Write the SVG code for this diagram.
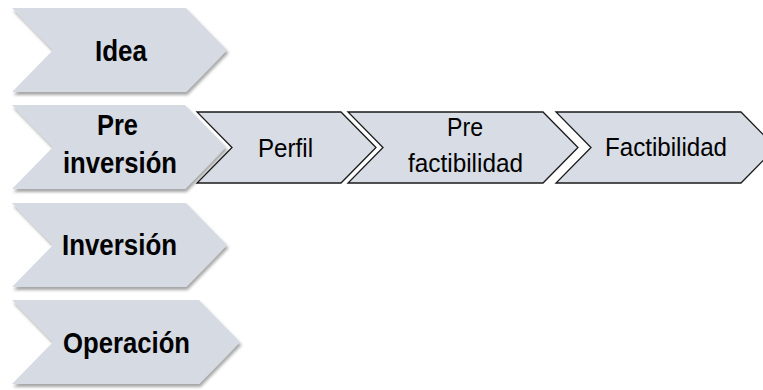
<svg xmlns="http://www.w3.org/2000/svg" width="763" height="390" viewBox="0 0 763 390">
  <style>
    .big { fill: #d5dae3; filter: url(#sh); }
    .small { fill: #d7dce5; stroke: #1a1a1a; stroke-width: 1.3; stroke-linejoin: miter; }
    .bt { font-family: "Liberation Sans", Arial, sans-serif; font-weight: bold; font-size: 30px; fill: #000; text-anchor: middle; }
    .st { font-family: "Liberation Sans", Arial, sans-serif; font-size: 25px; fill: #000; text-anchor: middle; }
  </style>
  <defs>
    <filter id="sh" x="-10%" y="-10%" width="125%" height="130%">
      <feDropShadow dx="1.5" dy="3" stdDeviation="1.8" flood-color="#000" flood-opacity="0.35"/>
    </filter>
  </defs>
  <rect width="763" height="390" fill="#fff"/>
  <g id="perfil">
    <polygon class="small" points="197,112 341,112 376,147.5 341,183 197,183 232,147.5"/>
    <text class="st" x="285.5" y="156.5" textLength="55" lengthAdjust="spacingAndGlyphs">Perfil</text>
  </g>
  <g id="prefactibilidad">
    <polygon class="small" points="348,112 543,112 578,147.5 543,183 348,183 383,147.5"/>
    <text class="st" x="465" y="136" textLength="36" lengthAdjust="spacingAndGlyphs">Pre</text>
    <text class="st" x="465.5" y="172" textLength="115" lengthAdjust="spacingAndGlyphs">factibilidad</text>
  </g>
  <g id="factibilidad">
    <polygon class="small" points="556,112 741,112 776,147.5 741,183 556,183 591,147.5"/>
    <text class="st" x="666" y="155.5" textLength="122" lengthAdjust="spacingAndGlyphs">Factibilidad</text>
  </g>
  <g id="idea">
    <polygon class="big" points="12,8 186,8 227,50 186,92 12,92 53,50"/>
    <text class="bt" x="121" y="61" textLength="52" lengthAdjust="spacingAndGlyphs">Idea</text>
  </g>
  <g id="preinversion">
    <polygon class="big" points="12,105 185,105 226,147 185,189 12,189 53,147"/>
    <text class="bt" x="117.5" y="135" textLength="41" lengthAdjust="spacingAndGlyphs">Pre</text>
    <text class="bt" x="120" y="173" textLength="114" lengthAdjust="spacingAndGlyphs">inversión</text>
  </g>
  <g id="inversion">
    <polygon class="big" points="12,203 186,203 227,245 186,287 12,287 53,245"/>
    <text class="bt" x="119.5" y="255" textLength="115" lengthAdjust="spacingAndGlyphs">Inversión</text>
  </g>
  <g id="operacion">
    <polygon class="big" points="12,300 199,300 240,342 199,384 12,384 53,342"/>
    <text class="bt" x="126.5" y="353" textLength="127" lengthAdjust="spacingAndGlyphs">Operación</text>
  </g>
  <g id="connectors"/>
</svg>
